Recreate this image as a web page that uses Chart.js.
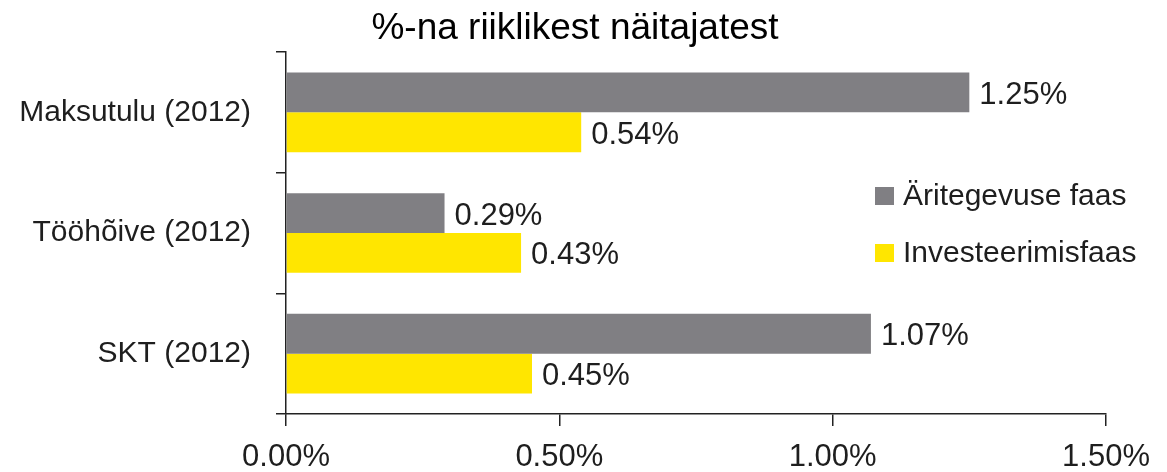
<!DOCTYPE html>
<html>
<head>
<meta charset="utf-8">
<script src="https://cdn.jsdelivr.net/npm/chart.js@4.4.0/dist/chart.umd.min.js"></script>
<style>
  html, body { margin: 0; padding: 0; background: #fff; }
  #wrap { width: 1167px; height: 472px; }
</style>
</head>
<body>
<div id="wrap"><canvas id="chart" width="1167" height="472"></canvas></div>
<script>
// data
const categories = ['Maksutulu (2012)', 'Tööhõive (2012)', 'SKT (2012)'];
const seriesNames = ['Äritegevuse faas', 'Investeerimisfaas'];
const aritegevusFaas = [1.25, 0.29, 1.07];
const investeerimisFaas = [0.54, 0.43, 0.45];
const xTicks = [0, 0.5, 1.0, 1.5];
const chartTitle = '%-na riiklikest näitajatest';

const colors = ['#807f83', '#ffe600'];
const textColor = '#1e1e1e';
const fontFamily = "'Liberation Sans', Arial, sans-serif";

Chart.defaults.font.family = fontFamily;
Chart.defaults.color = textColor;

const pct = v => v.toFixed(2) + '%';

// value labels to the right of each bar
const barLabels = {
  id: 'barLabels',
  afterDatasetsDraw(chart) {
    const ctx = chart.ctx;
    ctx.save();
    ctx.font = '31px ' + fontFamily;
    ctx.fillStyle = textColor;
    ctx.textAlign = 'left';
    ctx.textBaseline = 'middle';
    chart.data.datasets.forEach((ds, i) => {
      chart.getDatasetMeta(i).data.forEach((bar, j) => {
        ctx.fillText(pct(ds.data[j]), bar.x + 10, bar.y + 3);
      });
    });
    ctx.restore();
  }
};

// title sits a bit left of the plot centre, so it is drawn here
const topTitle = {
  id: 'topTitle',
  afterDraw(chart) {
    const ctx = chart.ctx;
    ctx.save();
    ctx.font = '37px ' + fontFamily;
    ctx.fillStyle = '#000';
    ctx.textAlign = 'center';
    ctx.textBaseline = 'middle';
    ctx.fillText(chartTitle, 575, 29);
    ctx.restore();
  }
};

// legend floating inside the plot, right side
const floatLegend = {
  id: 'floatLegend',
  afterDraw(chart) {
    const ctx = chart.ctx;
    const x = 875;
    const rows = [196, 253];
    ctx.save();
    ctx.font = '30px ' + fontFamily;
    ctx.textAlign = 'left';
    ctx.textBaseline = 'middle';
    chart.data.datasets.forEach((ds, i) => {
      ctx.fillStyle = ds.backgroundColor;
      ctx.fillRect(x, rows[i] - 9, 19, 18);
      ctx.fillStyle = textColor;
      ctx.fillText(ds.label, x + 28, rows[i] + 1);
    });
    ctx.restore();
  }
};

new Chart(document.getElementById('chart'), {
  type: 'bar',
  data: {
    labels: categories,
    datasets: [
      { label: seriesNames[0], data: aritegevusFaas, backgroundColor: colors[0] },
      { label: seriesNames[1], data: investeerimisFaas, backgroundColor: colors[1] }
    ]
  },
  options: {
    indexAxis: 'y',
    responsive: false,
    animation: false,
    categoryPercentage: 0.66,
    barPercentage: 1.0,
    layout: { padding: { left: 0, right: 61, top: 52, bottom: 0 } },
    plugins: {
      legend: { display: false },
      tooltip: { enabled: false },
      title: { display: false }
    },
    scales: {
      x: {
        min: 0,
        max: 1.5,
        afterBuildTicks: scale => { scale.ticks = xTicks.map(v => ({ value: v })); },
        afterFit: scale => { scale.height = 58; },
        grid: { drawOnChartArea: false, tickLength: 12, color: '#222', lineWidth: 1.5 },
        border: { color: '#222', width: 1.5 },
        ticks: {
          padding: 13,
          font: { size: 31 },
          color: textColor,
          callback: v => pct(v)
        }
      },
      y: {
        afterFit: scale => { scale.width = 286; },
        grid: { drawOnChartArea: false, tickLength: 10, color: '#222', lineWidth: 1.5 },
        border: { color: '#222', width: 1.5 },
        ticks: {
          padding: 25,
          font: { size: 30 },
          color: textColor
        }
      }
    }
  },
  plugins: [barLabels, topTitle, floatLegend]
});
</script>
</body>
</html>
